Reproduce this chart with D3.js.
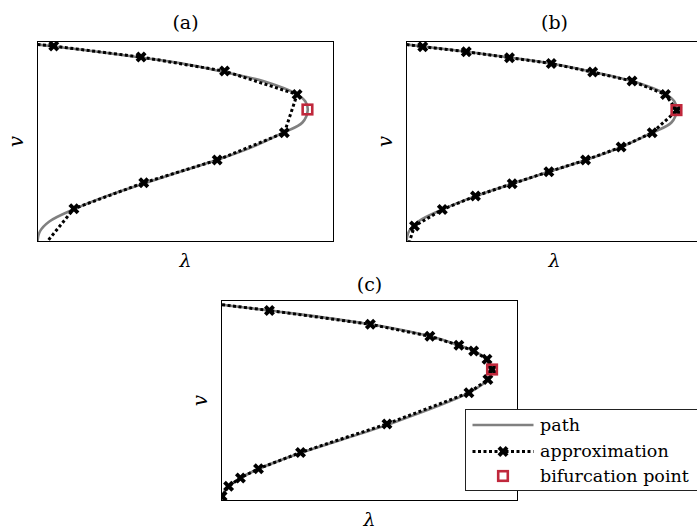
<!DOCTYPE html>
<html>
<head>
<meta charset="utf-8">
<script src="https://cdn.jsdelivr.net/npm/d3@7"></script>
<style>
  body { margin: 0; background: #fff; }
  text { font-family: "DejaVu Serif", serif; fill: #000; }
</style>
</head>
<body>
<div id="chart"></div>
<script>
// Path followed by the solver (lambda, v), shared by panels (a) and (b)
const pathAB = [[0, 0.985], [0.055, 0.975], [0.202, 0.949], [0.348, 0.92], [0.489, 0.89], [0.629, 0.848],
  [0.762, 0.802], [0.875, 0.737], [0.905, 0.70], [0.913, 0.657], [0.895, 0.595], [0.830, 0.544],
  [0.725, 0.472], [0.605, 0.407], [0.481, 0.349], [0.357, 0.289], [0.233, 0.227], [0.121, 0.16],
  [0.04, 0.10], [0.008, 0.05], [0, 0]];
const pathC = [[0, 0.979], [0.162, 0.950], [0.503, 0.881], [0.704, 0.821], [0.802, 0.776], [0.852, 0.748],
  [0.897, 0.706], [0.914, 0.655], [0.900, 0.605], [0.836, 0.539], [0.559, 0.378], [0.267, 0.238],
  [0.125, 0.158], [0.064, 0.112], [0.024, 0.07], [0.004, 0.03], [0, 0]];

// Approximation points (crosses) and the unmarked ends of the dotted line
const markA = [[0.055, 0.977], [0.350, 0.922], [0.632, 0.852], [0.877, 0.735], [0.834, 0.544],
  [0.607, 0.407], [0.359, 0.294], [0.123, 0.164]];
const tailA = [[0, 0.985], [0.033, 0]];
const markB = [[0.055, 0.974], [0.202, 0.949], [0.348, 0.919], [0.489, 0.89], [0.629, 0.847],
  [0.762, 0.802], [0.875, 0.735], [0.913, 0.655], [0.830, 0.544], [0.725, 0.472], [0.605, 0.407],
  [0.481, 0.349], [0.357, 0.289], [0.233, 0.227], [0.121, 0.16], [0.027, 0.077]];
const tailB = [[0, 0.985], [0.01, 0]];
const markC = [[0.162, 0.950], [0.503, 0.881], [0.704, 0.821], [0.802, 0.776], [0.852, 0.748],
  [0.897, 0.706], [0.914, 0.655], [0.900, 0.605], [0.836, 0.539], [0.559, 0.383], [0.267, 0.240],
  [0.125, 0.159], [0.064, 0.113], [0.024, 0.071], [0.002, 0.021]];
const tailC = [[0.002, 0.979], [0, 0.008]];

// Bifurcation points
const bifA = [0.912, 0.66];
const bifB = [0.912, 0.657];
const bifC = [0.914, 0.655];

const titles = ["(a)", "(b)", "(c)"];
const legendLabels = ["path", "approximation", "bifurcation point"];

const W = 697, H = 530;
const pw = 296, ph = 200;
const red = "#c0283c";

const svg = d3.select("#chart").append("svg")
    .attr("width", W)
    .attr("height", H);

const x = d3.scaleLinear().domain([0, 1]).range([0, pw]);
const y = d3.scaleLinear().domain([0, 1]).range([ph, 0]);

const line = d3.line().x(d => x(d[0])).y(d => y(d[1]));
const smooth = d3.line().curve(d3.curveCatmullRom).x(d => x(d[0])).y(d => y(d[1]));
const cross = d3.symbol().type(d3.symbolCross).size(75);

const panels = [
  { left: 37.5, top: 41.5, titleY: -13, path: pathAB, mark: markA, tail: tailA, bif: bifA },
  { left: 406.5, top: 41.5, titleY: -13, path: pathAB, mark: markB, tail: tailB, bif: bifB },
  { left: 221.5, top: 300.5, titleY: -10, path: pathC, mark: markC, tail: tailC, bif: bifC }
];

panels.forEach(function(p, i) {
  const g = svg.append("g").attr("transform", `translate(${p.left}, ${p.top})`);

  g.append("clipPath").attr("id", "clip" + i)
    .append("rect").attr("width", pw).attr("height", ph);

  const inner = g.append("g").attr("clip-path", `url(#clip${i})`);

  inner.append("path")
    .datum(p.path)
    .attr("fill", "none")
    .attr("stroke", "#808080")
    .attr("stroke-width", 2.6)
    .attr("d", smooth);

  inner.append("path")
    .datum([p.tail[0]].concat(p.mark, [p.tail[1]]))
    .attr("fill", "none")
    .attr("stroke", "#000")
    .attr("stroke-width", 3)
    .attr("stroke-dasharray", "3,2.5")
    .attr("d", line);

  inner.selectAll(".mk")
    .data(p.mark)
    .join("path")
    .attr("class", "mk")
    .attr("transform", d => `translate(${x(d[0])}, ${y(d[1])}) rotate(45)`)
    .attr("d", cross)
    .attr("fill", "#000");

  g.append("rect")
    .attr("width", pw)
    .attr("height", ph)
    .attr("fill", "none")
    .attr("stroke", "#000")
    .attr("stroke-width", 1);

  g.append("rect")
    .attr("x", x(p.bif[0]) - 4.8)
    .attr("y", y(p.bif[1]) - 4.8)
    .attr("width", 9.6)
    .attr("height", 9.6)
    .attr("fill", "none")
    .attr("stroke", red)
    .attr("stroke-width", 2.6);

  // title
  g.append("text")
    .attr("x", pw / 2)
    .attr("y", p.titleY)
    .attr("text-anchor", "middle")
    .style("font-size", "19px")
    .text(titles[i]);

  // axis labels
  g.append("text")
    .attr("x", pw / 2)
    .attr("y", ph + 25)
    .attr("text-anchor", "middle")
    .style("font-size", "19px")
    .style("font-style", "italic")
    .text("λ");

  g.append("text")
    .attr("transform", `translate(${-15}, ${ph / 2}) rotate(-90)`)
    .attr("text-anchor", "middle")
    .style("font-size", "20px")
    .style("font-style", "italic")
    .text("v");
});

// Legend
const lg = svg.append("g").attr("transform", "translate(465.5, 409.5)");
lg.append("rect")
  .attr("width", 250)
  .attr("height", 81)
  .attr("fill", "#fff")
  .attr("stroke", "#222")
  .attr("stroke-width", 1);

const rowY = [15.5, 42, 66.5];
lg.append("line")
  .attr("x1", 7).attr("x2", 68).attr("y1", rowY[0]).attr("y2", rowY[0])
  .attr("stroke", "#808080").attr("stroke-width", 2.6);
lg.append("line")
  .attr("x1", 7).attr("x2", 68).attr("y1", rowY[1]).attr("y2", rowY[1])
  .attr("stroke", "#000").attr("stroke-width", 3).attr("stroke-dasharray", "3,2.5");
lg.append("path")
  .attr("transform", `translate(37.5, ${rowY[1]}) rotate(45)`)
  .attr("d", cross)
  .attr("fill", "#000");
lg.append("rect")
  .attr("x", 37.5 - 4.8).attr("y", rowY[2] - 4.8)
  .attr("width", 9.6).attr("height", 9.6)
  .attr("fill", "none").attr("stroke", red).attr("stroke-width", 2.6);

lg.selectAll(".lbl")
  .data(legendLabels)
  .join("text")
  .attr("class", "lbl")
  .attr("x", 74.5)
  .attr("y", (d, i) => rowY[i] + 5.5)
  .style("font-size", "17.5px")
  .text(d => d);
</script>
</body>
</html>
